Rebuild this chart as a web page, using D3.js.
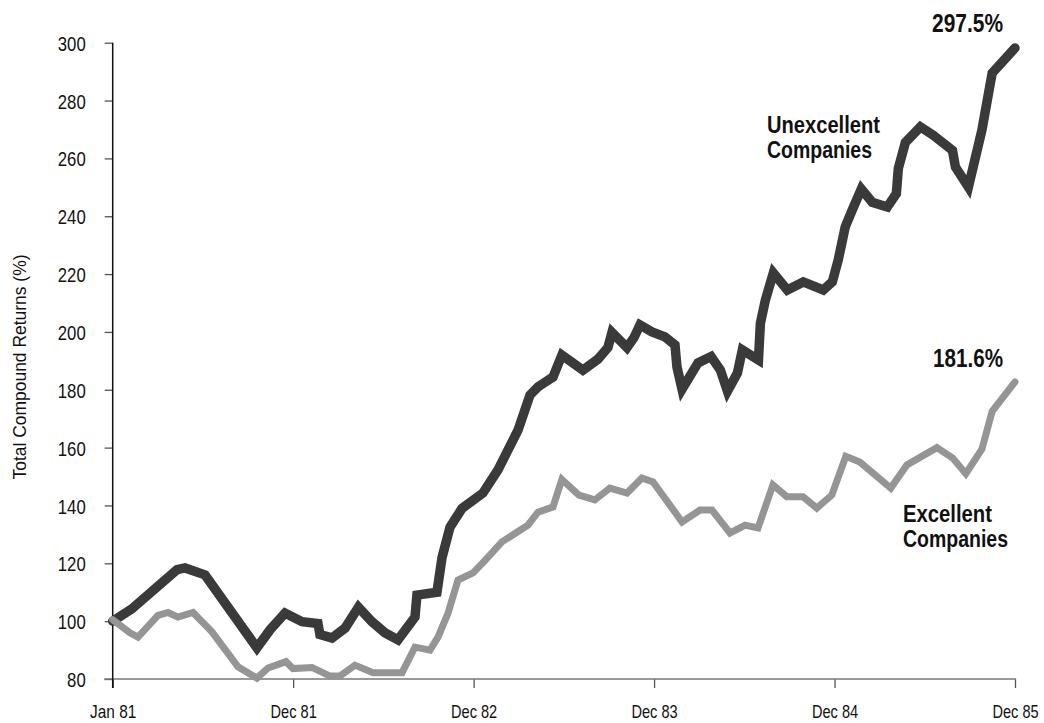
<!DOCTYPE html>
<html>
<head>
<meta charset="utf-8">
<script src="https://cdn.jsdelivr.net/npm/d3@7"></script>
<style>
  html, body { margin: 0; padding: 0; background: #fff; }
  svg { display: block; }
  text { font-family: "Liberation Sans", Arial, sans-serif; fill: #111; }
</style>
</head>
<body>
<svg id="chart" width="1044" height="723"></svg>
<script>
// ---- Data ----
const xTickPos = [0, 12, 24, 36, 48, 60];
const xTickLabels = ["Jan 81", "Dec 81", "Dec 82", "Dec 83", "Dec 84", "Dec 85"];
const yTicks = [80, 100, 120, 140, 160, 180, 200, 220, 240, 260, 280, 300];

// Unexcellent Companies (dark line): position in months from Jan 81 (axis units), value
const unexcellentT = [0, 1.26, 4.28, 4.81, 6.14, 9.59, 10.46, 11.46, 12.59, 13.65, 13.78, 14.58, 15.45, 16.34, 17.24, 18.1, 18.97, 20.1, 20.23, 21.56, 21.9, 22.43, 23.23, 24.62, 25.62, 26.95, 27.75, 28.28, 29.28, 29.87, 31.27, 32.27, 32.93, 33.2, 34.2, 34.66, 35.06, 35.86, 36.72, 37.39, 37.52, 37.86, 38.92, 39.79, 40.41, 40.88, 41.54, 41.87, 42.94, 43.07, 43.4, 43.93, 44.86, 45.92, 47.25, 47.85, 48.25, 48.71, 49.18, 49.78, 50.51, 51.51, 52.11, 52.24, 52.71, 53.71, 54.57, 55.84, 56.04, 56.9, 57.8, 58.48, 60];
const unexcellentV = [100, 104.2, 117.8, 118.4, 116, 90.8, 97, 102.8, 99.8, 99.2, 95.4, 94.2, 97.6, 104.8, 99.8, 96, 93.5, 101.4, 109, 110, 122, 132.5, 139, 144.3, 152.3, 166, 178.2, 181, 184.4, 192, 186.8, 190.6, 194.6, 199.8, 194.6, 198, 202.4, 200, 198.3, 195.5, 187.9, 180.2, 189.3, 191.5, 186.8, 179.5, 185.8, 193.8, 190.3, 203, 211, 220.4, 214.5, 217.3, 214.5, 217.3, 225, 236.3, 242.2, 249.4, 244.8, 243.2, 247.8, 256.5, 265.5, 270.9, 268, 262.8, 257, 250.1, 269.8, 289.5, 298.2];

// Excellent Companies (grey line)
const excellentT = [0, 1.15, 1.68, 3.01, 3.68, 4.34, 5.34, 6.6, 8.33, 9.59, 10.33, 11.52, 11.99, 13.25, 14.45, 15.11, 16.11, 17.31, 19.24, 20.1, 21.1, 21.63, 22.3, 22.96, 23.96, 24.76, 25.88, 27.61, 28.28, 29.28, 29.87, 31.0, 32.06, 33.06, 34.2, 35.19, 35.93, 36.72, 37.86, 39.05, 39.85, 41.05, 42.05, 42.91, 43.9, 44.83, 45.9, 46.82, 47.82, 48.75, 49.68, 51.74, 52.81, 54.8, 55.86, 56.73, 57.8, 58.48, 60];
const excellentV = [100.5, 96, 94.5, 102, 103, 101.4, 103, 96.3, 84.2, 80.3, 83.8, 86, 83.6, 84, 81, 81, 84.8, 82.2, 82.2, 91, 90, 94.5, 102.8, 114.2, 116.7, 121, 127.4, 133.2, 137.7, 139.5, 149, 143.6, 141.9, 146, 144.3, 149.5, 148.1, 142.5, 134.3, 138.4, 138.4, 130.5, 133.2, 132.2, 147.1, 143, 143, 139.1, 143.6, 157, 155, 146, 154, 160, 156.4, 151, 159.5, 172.5, 182.7];

const seriesNames = ["Unexcellent Companies", "Excellent Companies"];
const endLabels = ["297.5%", "181.6%"];

// ---- Chart ----
const svg = d3.select("#chart");
const x = d3.scaleLinear().domain([0, 60]).range([112.7, 1015]);
const y = d3.scaleLinear().domain([80, 300]).range([679, 42.7]);

// condensed look: squeeze text to the reference widths
function squeeze(sel, perChar) {
  sel.each(function () {
    const t = d3.select(this);
    const n = t.text().length;
    t.attr("textLength", n * perChar).attr("lengthAdjust", "spacingAndGlyphs");
  });
}

// Y axis
const yAxis = svg.append("g")
  .attr("transform", `translate(${x(0)},0)`)
  .call(d3.axisLeft(y).tickValues(yTicks).tickSize(8).tickPadding(19).tickFormat(d3.format("d")));
yAxis.select(".domain").remove();
yAxis.selectAll(".tick line").attr("stroke", "#555").attr("stroke-width", 1.3);
yAxis.selectAll(".tick text").attr("font-size", 21).attr("fill", "#111")
  .attr("dy", "0.36em")
  .style("font-family", '"Liberation Sans", Arial, sans-serif');
squeeze(yAxis.selectAll(".tick text"), 9.3);

// X axis
const xAxis = svg.append("g")
  .attr("transform", `translate(0,${y(80)})`)
  .call(d3.axisBottom(x).tickValues(xTickPos).tickSize(9)
    .tickFormat((d, i) => xTickLabels[i]));
xAxis.select(".domain").remove();
xAxis.selectAll(".tick line").attr("stroke", "#555").attr("stroke-width", 1.3);
xAxis.selectAll(".tick text").attr("font-size", 19).attr("fill", "#111")
  .attr("dy", null).attr("y", 39)
  .style("font-family", '"Liberation Sans", Arial, sans-serif');
squeeze(xAxis.selectAll(".tick text"), 7.7);

// axis lines
svg.append("line")
  .attr("x1", x(0) - 8.5).attr("x2", x(60) + 1)
  .attr("y1", y(80)).attr("y2", y(80))
  .attr("stroke", "#777").attr("stroke-width", 1.5);
svg.append("line")
  .attr("x1", x(0)).attr("x2", x(0))
  .attr("y1", y(300)).attr("y2", y(80) + 9)
  .attr("stroke", "#111").attr("stroke-width", 1.5);

// Y axis title
svg.append("text")
  .attr("transform", `translate(26,${367}) rotate(-90)`)
  .attr("text-anchor", "middle")
  .attr("font-size", 19)
  .attr("textLength", 225).attr("lengthAdjust", "spacingAndGlyphs")
  .text("Total Compound Returns (%)");

// Lines
const line = d3.line().x(d => x(d[0])).y(d => y(d[1]));
const darkData = unexcellentT.map((t, i) => [t, unexcellentV[i]]);
const greyData = excellentT.map((t, i) => [t, excellentV[i]]);

svg.append("path")
  .datum(darkData)
  .attr("d", line)
  .attr("fill", "none")
  .attr("stroke", "#3a3a3a")
  .attr("stroke-width", 9.5)
  .attr("stroke-linejoin", "miter")
  .attr("stroke-miterlimit", 4)
  .attr("stroke-linecap", "round");

svg.append("path")
  .datum(greyData)
  .attr("d", line)
  .attr("fill", "none")
  .attr("stroke", "#959595")
  .attr("stroke-width", 7)
  .attr("stroke-linejoin", "miter")
  .attr("stroke-miterlimit", 4)
  .attr("stroke-linecap", "round");

// Labels
const bold = svg.append("g").attr("font-weight", "bold");
function label(txt, xPos, yPos, w, size) {
  bold.append("text").attr("x", xPos).attr("y", yPos)
    .attr("font-size", size)
    .attr("textLength", w).attr("lengthAdjust", "spacingAndGlyphs")
    .text(txt);
}
label(endLabels[0], 932, 32, 71, 25);
label(endLabels[1], 933, 366.5, 70, 25);

const unexWords = seriesNames[0].split(" ");
const exWords = seriesNames[1].split(" ");
label(unexWords[0], 767, 133, 113, 23);
label(unexWords[1], 767, 158, 105, 23);
label(exWords[0], 903, 522, 89, 23);
label(exWords[1], 903, 547, 105, 23);
</script>
</body>
</html>
